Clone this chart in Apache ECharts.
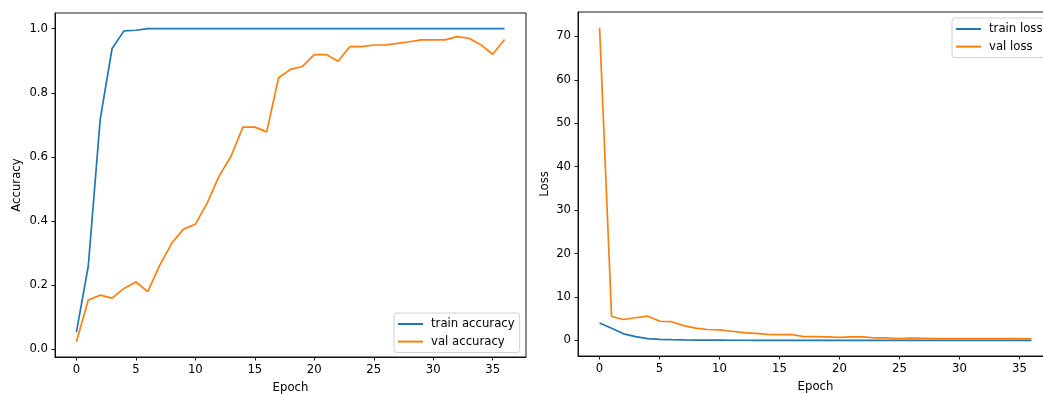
<!DOCTYPE html>
<html>
<head>
<meta charset="utf-8">
<script src="https://cdn.jsdelivr.net/npm/echarts@6/dist/echarts.min.js"></script>
<style>
  html, body { margin: 0; padding: 0; background: #fff; }
  #main { width: 1043px; height: 394px; }
</style>
</head>
<body>
<div id="main"></div>
<script>
// training history
var epochs = [];
for (var i = 0; i <= 36; i++) epochs.push(i);

var trainAcc = [0.054, 0.26, 0.717, 0.938, 0.993, 0.995, 1.0, 1.0, 1.0, 1.0,
                1.0, 1.0, 1.0, 1.0, 1.0, 1.0, 1.0, 1.0, 1.0, 1.0,
                1.0, 1.0, 1.0, 1.0, 1.0, 1.0, 1.0, 1.0, 1.0, 1.0,
                1.0, 1.0, 1.0, 1.0, 1.0, 1.0, 1.0];
var valAcc = [0.024, 0.154, 0.169, 0.160, 0.190, 0.210, 0.180, 0.262, 0.330, 0.375,
              0.390, 0.457, 0.540, 0.602, 0.693, 0.693, 0.678, 0.847, 0.873, 0.882,
              0.919, 0.919, 0.898, 0.944, 0.944, 0.949, 0.949, 0.954, 0.959, 0.965,
              0.965, 0.965, 0.975, 0.970, 0.950, 0.920, 0.966];

var trainLoss = [4.0, 2.8, 1.5, 0.85, 0.4, 0.25, 0.15, 0.1, 0.07, 0.05,
                 0.04, 0.03, 0.03, 0.02, 0.02, 0.02, 0.02, 0.01, 0.01, 0.01,
                 0.01, 0.01, 0.01, 0.01, 0.01, 0.01, 0.01, 0.01, 0.01, 0.01,
                 0.01, 0.01, 0.01, 0.01, 0.01, 0.01, 0.01];
var valLoss = [71.9, 5.5, 4.8, 5.2, 5.6, 4.4, 4.3, 3.4, 2.8, 2.5,
               2.4, 2.1, 1.8, 1.6, 1.4, 1.3, 1.35, 0.85, 0.85, 0.8,
               0.7, 0.8, 0.8, 0.55, 0.55, 0.4, 0.5, 0.45, 0.4, 0.4,
               0.4, 0.4, 0.4, 0.4, 0.4, 0.4, 0.35];

var xTicks = [0, 5, 10, 15, 20, 25, 30, 35];
var accTicks = [0, 0.2, 0.4, 0.6, 0.8, 1.0];
var lossTicks = [0, 10, 20, 30, 40, 50, 60, 70];

var blue = '#1f77b4', orange = '#ff7f0e';
var font = 'DejaVu Sans';
var fs = 11.7;

function pairs(ys) {
    return epochs.map(function (e, k) { return [e, ys[k]]; });
}

function xAxisFor(grid) {
    return {
        type: 'value', gridIndex: grid,
        min: -1.8, max: 37.8,
        name: 'Epoch', nameLocation: 'middle', nameGap: 25,
        nameTextStyle: { fontFamily: font, fontSize: fs, color: '#000' },
        splitLine: { show: false },
        axisLine: { show: true, onZero: false, lineStyle: { color: '#000', width: 0.9 } },
        axisTick: { show: true, length: 3.5, customValues: xTicks, lineStyle: { color: '#000', width: 0.9 } },
        axisLabel: { customValues: xTicks, margin: 7, fontFamily: font, fontSize: fs, color: '#000' }
    };
}

function yAxisFor(grid, name, min, max, ticks, gap, fmt) {
    return {
        type: 'value', gridIndex: grid,
        min: min, max: max,
        name: name, nameLocation: 'middle', nameGap: gap, nameRotate: 90,
        nameTextStyle: { fontFamily: font, fontSize: fs, color: '#000' },
        splitLine: { show: false },
        axisLine: { show: true, onZero: false, lineStyle: { color: '#000', width: 0.9 } },
        axisTick: { show: true, length: 3.5, customValues: ticks, lineStyle: { color: '#000', width: 0.9 } },
        axisLabel: { customValues: ticks, margin: 7, fontFamily: font, fontSize: fs, color: '#000', formatter: fmt }
    };
}

function legendAt(left, top, names) {
    return {
        data: names, orient: 'vertical', left: left, top: top,
        icon: 'rect', itemWidth: 25, itemHeight: 2, itemGap: 3.6,
        padding: [4, 5, 4, 4],
        backgroundColor: 'rgba(255,255,255,0.8)',
        borderColor: '#d0d0d0', borderWidth: 1, borderRadius: 3,
        textStyle: { fontFamily: font, fontSize: fs, color: '#000', lineHeight: 14, padding: [0, 0, 0, 3] }
    };
}

function lineSeries(name, data, color, axis) {
    return {
        name: name, type: 'line', data: pairs(data),
        xAxisIndex: axis, yAxisIndex: axis,
        showSymbol: false, symbol: 'none',
        lineStyle: { color: color, width: 1.7 },
        itemStyle: { color: color },
        emphasis: { disabled: true }
    };
}

var myChart = echarts.init(document.getElementById('main'));
var option = {
    animation: false,
    backgroundColor: '#fff',
    grid: [
        { left: 55, top: 13, width: 471, height: 344, outerBoundsMode: 'none', containLabel: false,
          show: true, borderColor: '#000', borderWidth: 0.9 },
        { left: 578, top: 12, width: 475, height: 344, outerBoundsMode: 'none', containLabel: false,
          show: true, borderColor: '#000', borderWidth: 0.9 }
    ],
    xAxis: [xAxisFor(0), xAxisFor(1)],
    yAxis: [
        yAxisFor(0, 'Accuracy', -0.0237, 1.0487, accTicks, 32, function (v) { return v.toFixed(1); }),
        yAxisFor(1, 'Loss', -3.6, 75.6, lossTicks, 27, function (v) { return String(v); })
    ],
    legend: [
        legendAt(394, 313, ['train accuracy', 'val accuracy']),
        legendAt(952, 18, ['train loss', 'val loss'])
    ],
    series: [
        lineSeries('train accuracy', trainAcc, blue, 0),
        lineSeries('val accuracy', valAcc, orange, 0),
        lineSeries('train loss', trainLoss, blue, 1),
        lineSeries('val loss', valLoss, orange, 1)
    ]
};
myChart.setOption(option);
</script>
</body>
</html>
